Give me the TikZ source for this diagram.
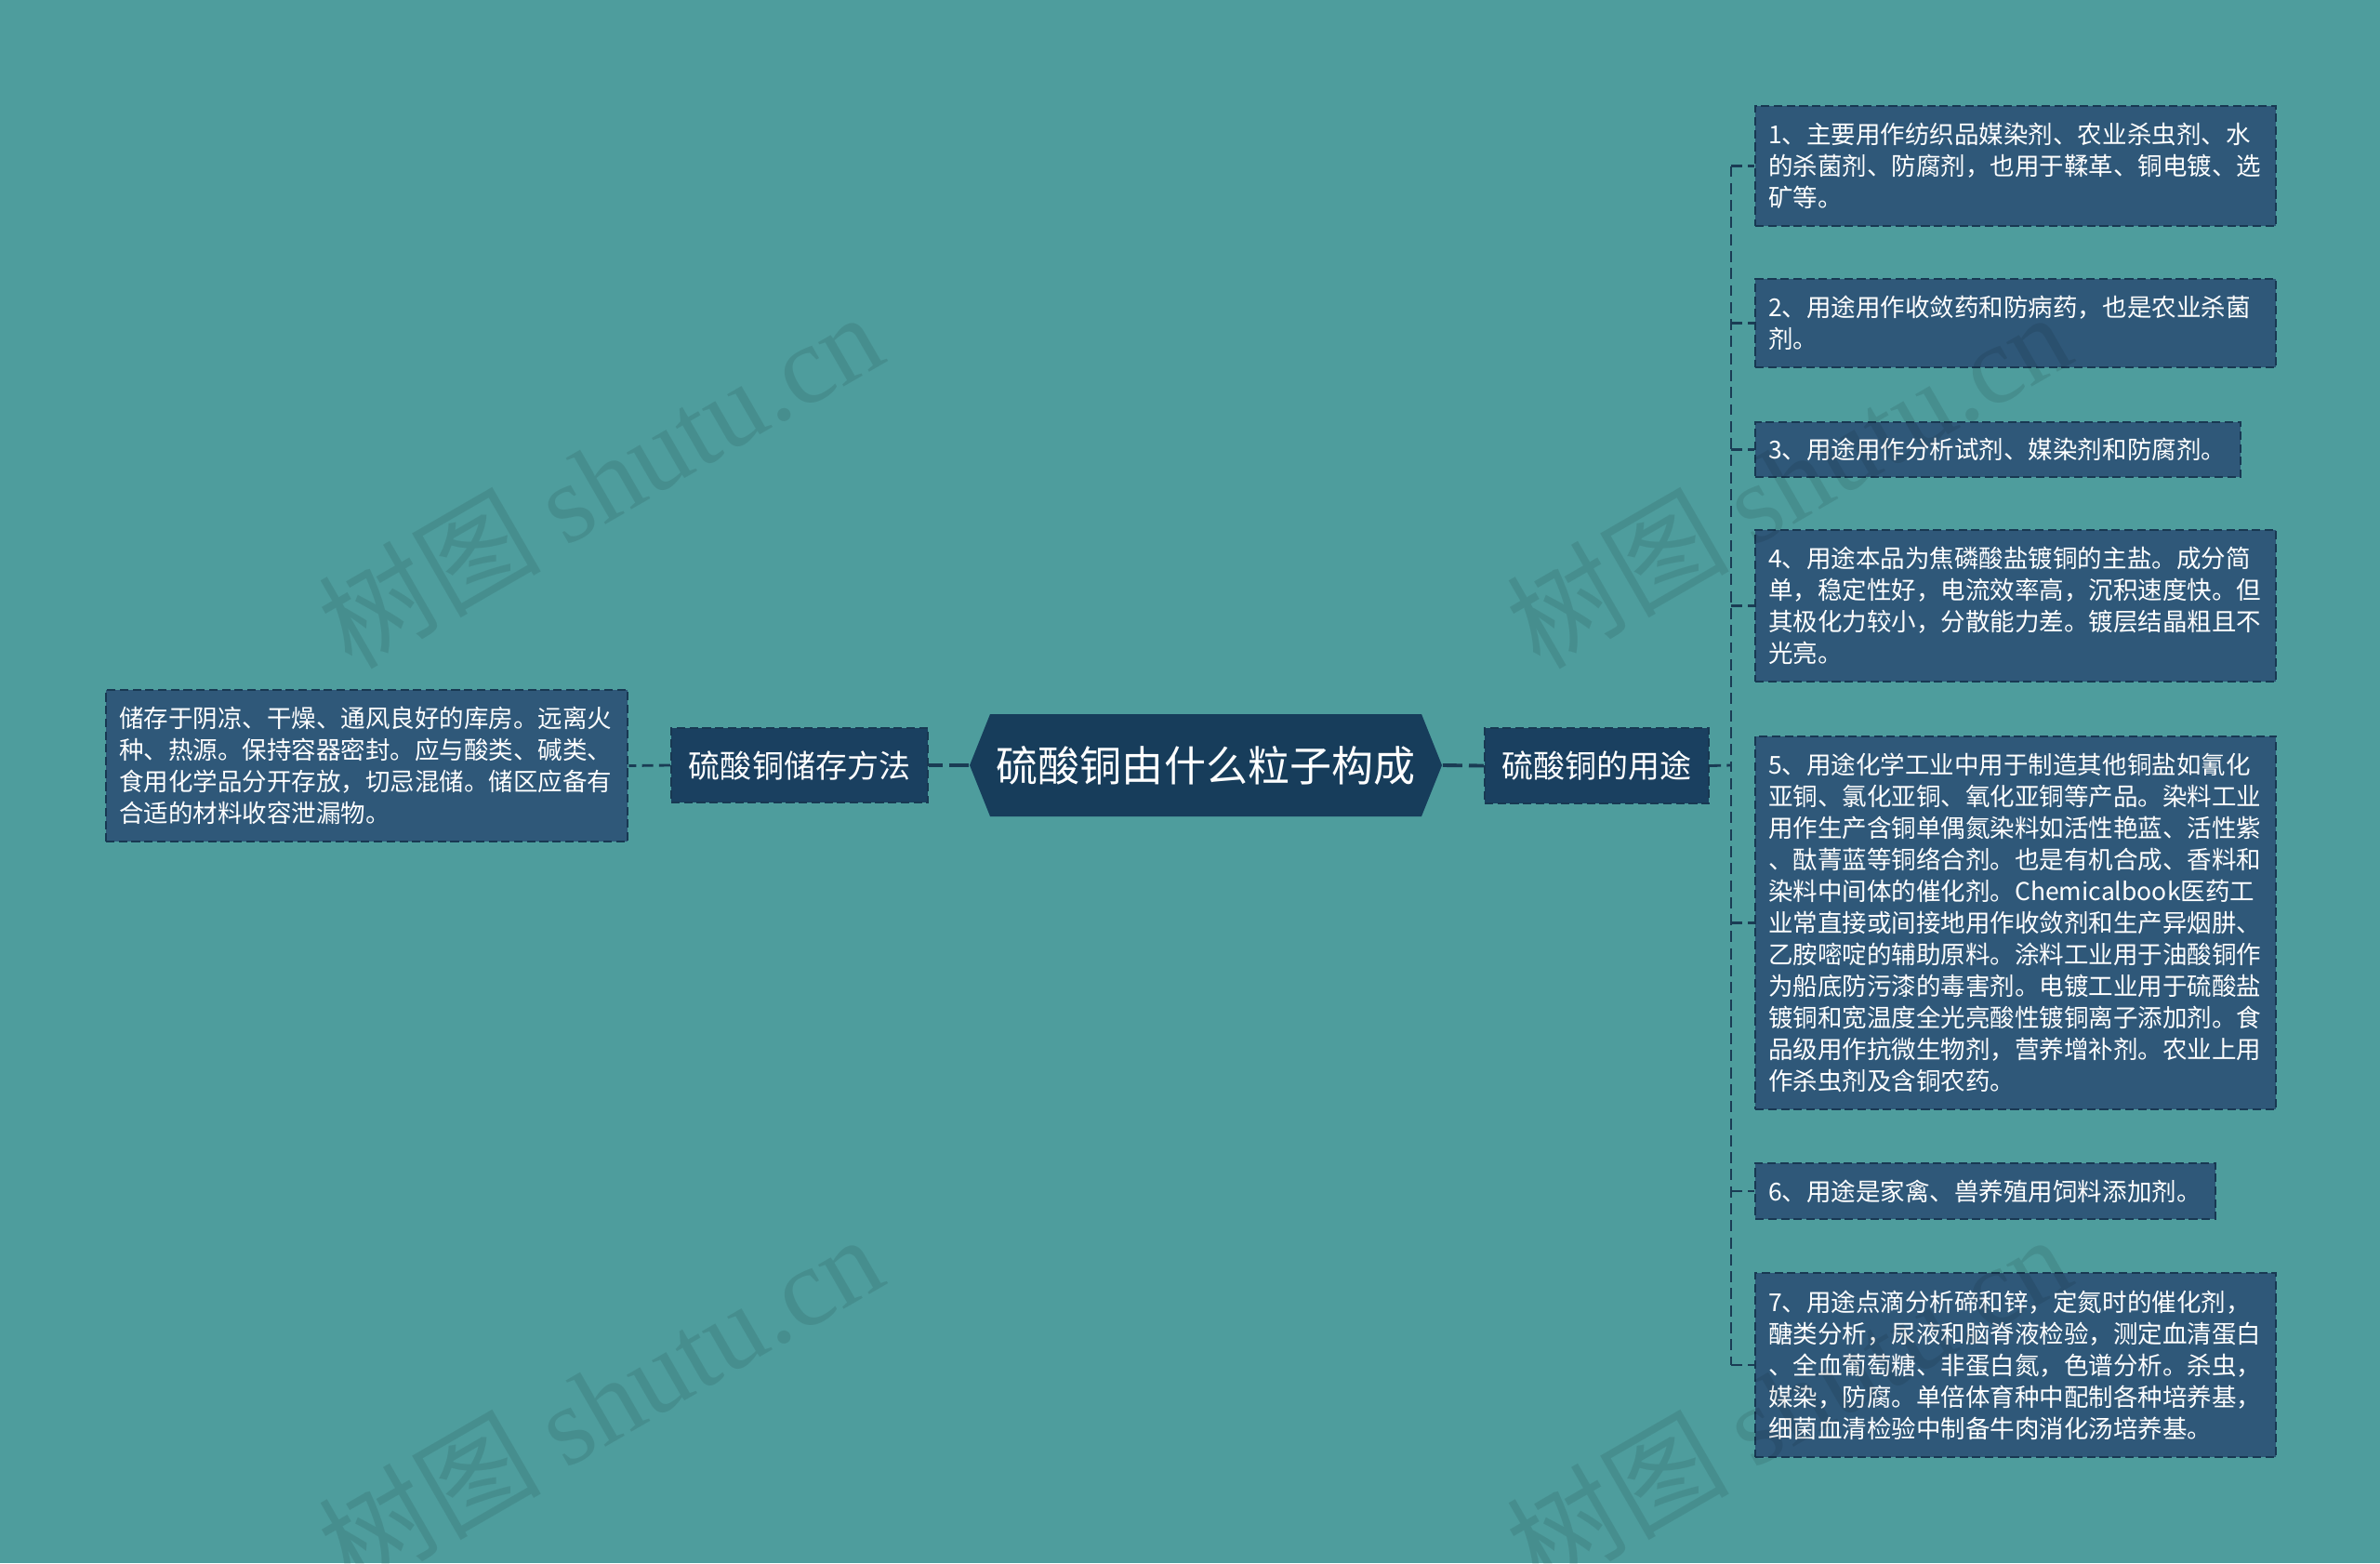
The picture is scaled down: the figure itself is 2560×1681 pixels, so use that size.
\documentclass[tikz,border=0pt]{standalone}
\usepackage{fontspec}
\setmainfont{Noto Sans CJK SC}
\newfontfamily\wmlatin{Liberation Serif}
\usetikzlibrary{calc,backgrounds}
\definecolor{bgteal}{RGB}{78,157,157}
\definecolor{rootfill}{RGB}{23,61,91}
\definecolor{lvlfill}{RGB}{26,64,96}
\definecolor{leaffill}{RGB}{47,88,121}
\definecolor{edgecol}{RGB}{24,56,82}
\definecolor{linecol}{RGB}{26,60,84}
\tikzset{
  leafbox/.style={draw=edgecol, fill=leaffill, dash pattern=on 2.6pt off 1.3pt,
    line width=0.6pt, anchor=west, inner xsep=0.14cm, inner ysep=0pt, align=left,
    text=white, font=\fontsize{7.54pt}{9.67pt}\selectfont},
  lvlbox/.style={draw=edgecol, fill=lvlfill, dash pattern=on 2.6pt off 1.3pt,
    line width=0.6pt, inner sep=0pt, text=white, font=\fontsize{9.67pt}{11pt}\selectfont},
  conn/.style={draw=linecol, line width=0.8pt, dash pattern=on 3.4pt off 1.8pt},
  mainconn/.style={draw=linecol, line width=1.1pt, dash pattern=on 6pt off 2pt},
  wmark/.style={rotate=30, text=black, opacity=0.09, font=\fontsize{34pt}{36pt}\selectfont}
}
\begin{document}
\begin{tikzpicture}[x=0.01cm, y=-0.01cm]
\begin{pgfonlayer}{background}
\fill[bgteal] (0,0) rectangle (2560,1681);
\fill[rootfill] (1043,823) -- (1065,768) -- (1529,768) -- (1551,823) -- (1529,878) -- (1065,878) -- cycle;
\end{pgfonlayer}
\useasboundingbox (0,0) rectangle (2560,1681);

% root
\node[minimum width=5.08cm, minimum height=1.10cm, inner sep=0pt, text=white,
  font=\fontsize{12.8pt}{14pt}\selectfont] (root) at (1297,823) {硫酸铜由什么粒子构成};

% level 1
\node[lvlbox, minimum width=2.41cm, minimum height=0.81cm] (use) at (1717.5,823.5) {硫酸铜的用途};
\node[lvlbox, minimum width=2.76cm, minimum height=0.80cm] (store) at (860,823) {硫酸铜储存方法};

% left leaf
\node[leafbox, text width=5.33cm, minimum height=1.63cm] (sleaf) at (113,823.5) {储存于阴凉、干燥、通风良好的库房。远离火\\种、热源。保持容器密封。应与酸类、碱类、\\食用化学品分开存放，切忌混储。储区应备有\\合适的材料收容泄漏物。};

% right leaves
\node[leafbox, text width=5.32cm, minimum height=1.29cm] (l1) at (1887,178.5) {1、主要用作纺织品媒染剂、农业杀虫剂、水\\的杀菌剂、防腐剂，也用于鞣革、铜电镀、选\\矿等。};
\node[leafbox, text width=5.32cm, minimum height=0.95cm] (l2) at (1887,347.5) {2、用途用作收敛药和防病药，也是农业杀菌\\剂。};
\node[leafbox, text width=4.94cm, minimum height=0.59cm] (l3) at (1887,483.5) {3、用途用作分析试剂、媒染剂和防腐剂。};
\node[leafbox, text width=5.32cm, minimum height=1.63cm] (l4) at (1887,651.5) {4、用途本品为焦磷酸盐镀铜的主盐。成分简\\单，稳定性好，电流效率高，沉积速度快。但\\其极化力较小，分散能力差。镀层结晶粗且不\\光亮。};
\node[leafbox, text width=5.32cm, minimum height=4.01cm] (l5) at (1887,992.5) {5、用途化学工业中用于制造其他铜盐如氰化\\亚铜、氯化亚铜、氧化亚铜等产品。染料工业\\用作生产含铜单偶氮染料如活性艳蓝、活性紫\\、酞菁蓝等铜络合剂。也是有机合成、香料和\\染料中间体的催化剂。Chemicalbook医药工\\业常直接或间接地用作收敛剂和生产异烟肼、\\乙胺嘧啶的辅助原料。涂料工业用于油酸铜作\\为船底防污漆的毒害剂。电镀工业用于硫酸盐\\镀铜和宽温度全光亮酸性镀铜离子添加剂。食\\品级用作抗微生物剂，营养增补剂。农业上用\\作杀虫剂及含铜农药。};
\node[leafbox, text width=4.67cm, minimum height=0.60cm] (l6) at (1887,1281) {6、用途是家禽、兽养殖用饲料添加剂。};
\node[leafbox, text width=5.32cm, minimum height=1.98cm] (l7) at (1887,1468) {7、用途点滴分析碲和锌，定氮时的催化剂，\\醣类分析，尿液和脑脊液检验，测定血清蛋白\\、全血葡萄糖、非蛋白氮，色谱分析。杀虫，\\媒染，防腐。单倍体育种中配制各种培养基，\\细菌血清检验中制备牛肉消化汤培养基。};

% connectors
\draw[mainconn] (root.east) -- (use.west);
\draw[mainconn] (root.west) -- (store.east);
\draw[conn] (store.west) -- (sleaf.east);
\coordinate (sp) at (1862,823);
\draw[conn] (use.east) -- (sp);
\draw[conn] (sp |- l1.west) -- (sp |- l7.west);
\foreach \n in {l1,l2,l3,l4,l5,l6,l7}{
  \draw[conn] (sp |- \n.west) -- (\n.west);
}

% watermarks
\foreach \p in {(645,515),(1923,515),(645,1507),(1923,1507)}{
  \node[wmark] at \p {树图 {\wmlatin shutu.cn}};
}
\end{tikzpicture}
\end{document}
